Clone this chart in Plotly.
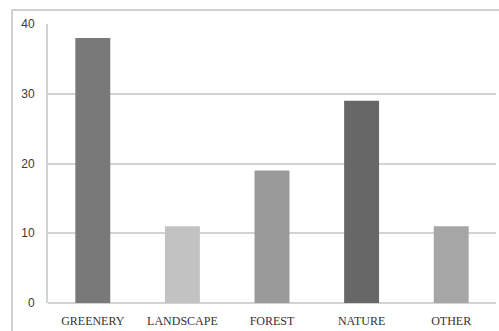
import plotly.graph_objects as go

categories = ["GREENERY", "LANDSCAPE", "FOREST", "NATURE", "OTHER"]
values = [38, 11, 19, 29, 11]
bar_colors = ["#797979", "#c2c2c2", "#9a9a9a", "#676767", "#a6a6a6"]
y_ticks = [0, 10, 20, 30, 40]

W, H = 499, 331
ml, mr, mt, mb = 48, 3, 24, 28
pw, ph = W - ml - mr, H - mt - mb

fig = go.Figure(
    go.Bar(
        x=categories,
        y=values,
        marker=dict(color=bar_colors, line=dict(width=0)),
        width=0.39,
    )
)

# outer chart border (partially clipped on the right and bottom)
fig.add_shape(
    type="rect",
    xref="paper", yref="paper",
    x0=(12 - ml) / pw, x1=(510 - ml) / pw,
    y0=-(345 - (H - mb)) / ph, y1=((H - mb) - 10) / ph,
    line=dict(color="#d0d0d0", width=2),
    fillcolor="rgba(0,0,0,0)",
    layer="below",
)

fig.update_layout(
    width=W, height=H,
    margin=dict(l=ml, r=mr, t=mt, b=mb),
    paper_bgcolor="white",
    plot_bgcolor="white",
    showlegend=False,
    bargap=0.61,
)
fig.update_xaxes(
    showgrid=False,
    showline=False,
    tickfont=dict(family="Liberation Serif", size=12, color="#333333"),
    ticks="outside", ticklen=7, tickcolor="rgba(0,0,0,0)",
)
fig.update_yaxes(
    range=[0, 40],
    tickvals=y_ticks,
    showgrid=True, gridcolor="#d3d3d3", gridwidth=2,
    zeroline=True, zerolinecolor="#d3d3d3", zerolinewidth=2,
    showline=True, linecolor="#d3d3d3", linewidth=2,
    tickfont=dict(family="Liberation Sans", size=12, color="#3a3a3a"),
    ticks="outside", ticklen=9, tickcolor="rgba(0,0,0,0)",
)

fig.write_html("out.html")
